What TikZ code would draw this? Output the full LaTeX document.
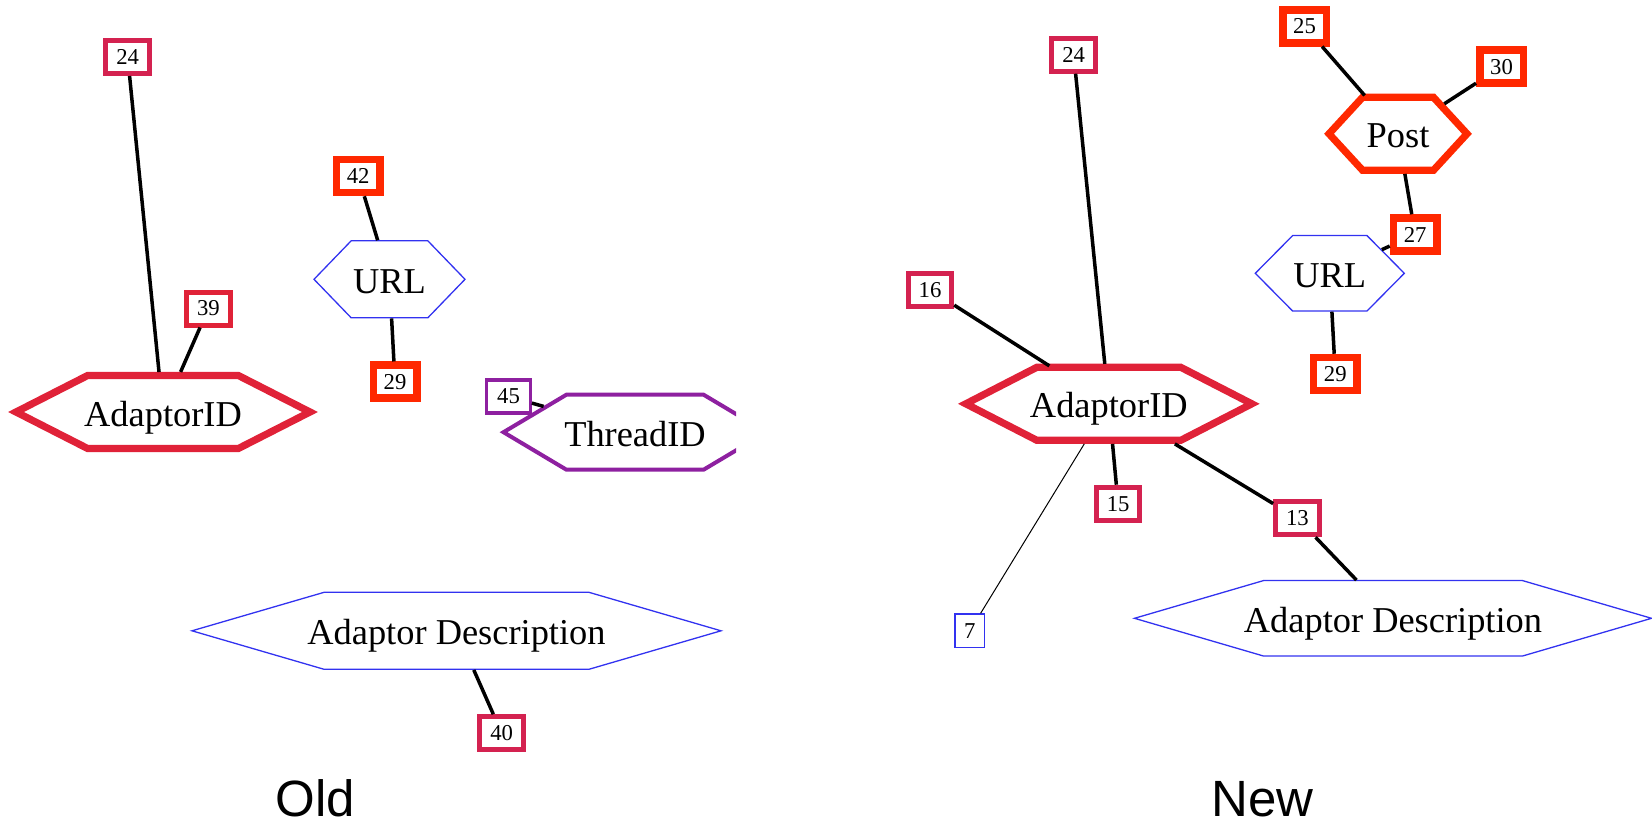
\documentclass[tikz,border=0pt]{standalone}
\usepackage{fontspec}
\setmainfont{Liberation Serif}
\newfontfamily\labfont{Liberation Sans}
\usetikzlibrary{shapes.symbols}
\definecolor{crim}{RGB}{212,34,80}
\definecolor{redh}{RGB}{224,34,56}
\definecolor{ored}{RGB}{255,40,0}
\definecolor{purp}{RGB}{142,32,160}
\definecolor{blu}{RGB}{50,50,240}
\tikzset{
  numbox/.style={draw, rectangle, inner sep=0pt, minimum width=21.75pt, minimum height=16.5pt, font=\fontsize{11.35}{12}\selectfont},
  crimbox/.style={numbox, draw=crim, line width=2.5pt},
  redbox/.style={numbox, draw=redh, line width=2.5pt},
  orbox/.style={numbox, draw=ored, line width=3.75pt},
  purbox/.style={numbox, draw=purp, line width=1.65pt},
  blubox/.style={numbox, draw=blu, line width=0.65pt, minimum width=14.85pt, minimum height=16.85pt},
  hexa/.style={shape=signal, signal to=west and east, draw, inner sep=0pt, text height=16pt, text depth=2pt, font=\fontsize{18.2}{20}\selectfont},
  redhex/.style={hexa, draw=redh, line width=3.6pt},
  orhex/.style={hexa, draw=ored, line width=3.6pt},
  purhex/.style={hexa, draw=purp, line width=2pt},
  bluhex/.style={hexa, draw=blu, line width=0.65pt},
  link/.style={line width=1.75pt, black},
  thinlink/.style={line width=0.5pt, black},
  bigcap/.style={font=\labfont\fontsize{25.5}{28}\selectfont, anchor=base, inner sep=0pt},
}
\begin{document}
\begin{tikzpicture}[x=0.5pt, y=-0.5pt]
\useasboundingbox (0,0) rectangle (1652,824);
% ---------- Old ----------
\node[redhex, signal pointer angle=54, minimum width=147pt, minimum height=36.5pt] (oAid) at (163,412) {\makebox[0pt]{AdaptorID}};
\node[bluhex, signal pointer angle=92, minimum width=75.5pt, minimum height=38.5pt] (oURL) at (389.5,279.3) {\makebox[0pt]{URL}};
\begin{scope}
\clip (0,0) rectangle (736,824);
\node[purhex, signal pointer angle=61.6, minimum width=131.5pt, minimum height=37.5pt] (oThr) at (635,432.2) {\makebox[0pt]{ThreadID}};
\end{scope}
\node[bluhex, signal pointer angle=32.5, minimum width=264.5pt, minimum height=38.5pt] (oAD) at (456.5,630.8) {\makebox[0pt]{Adaptor Description}};
\node[crimbox] (o24) at (127.7,57) {24};
\node[redbox] (o39) at (208.4,308.5) {39};
\node[orbox] (o42) at (358.2,176) {42};
\node[orbox] (o29) at (395,381.7) {29};
\node[purbox] (o45) at (508.5,396.5) {45};
\node[crimbox] (o40) at (501.7,733.2) {40};
\draw[link] (o24) -- (oAid);
\draw[link] (o39) -- (oAid);
\draw[link] (o42) -- (oURL);
\draw[link] (oURL) -- (o29);
\draw[link] (o45) -- (oThr);
\draw[link] (oAD) -- (o40);
\node[bigcap] (old) at (315.5,816) {Old};
% ---------- New ----------
\node[redhex, signal pointer angle=54.4, minimum width=143pt, minimum height=36.5pt] (nAid) at (1108.8,403.8) {\makebox[0pt]{AdaptorID}};
\node[orhex, signal pointer angle=94.8, minimum width=69pt, minimum height=36.5pt] (nPost) at (1398,133.8) {\makebox[0pt]{Post}};
\node[bluhex, signal pointer angle=90.6, minimum width=74.5pt, minimum height=37.75pt] (nURL) at (1329.8,273.3) {\makebox[0pt]{URL}};
\node[bluhex, signal pointer angle=32.6, minimum width=258.5pt, minimum height=37.75pt] (nAD) at (1393,618.3) {\makebox[0pt]{Adaptor Description}};
\node[crimbox] (n24) at (1073.7,54.7) {24};
\node[orbox] (n25) at (1304.5,26.3) {25};
\node[orbox] (n30) at (1501.5,66.7) {30};
\node[orbox] (n27) at (1415.2,234.5) {27};
\node[orbox] (n29) at (1335.3,374) {29};
\node[crimbox] (n16) at (930,289.7) {16};
\node[crimbox] (n15) at (1118.1,503.7) {15};
\node[crimbox] (n13) at (1297.4,518.3) {13};
\node[blubox] (n7) at (969.9,630.8) {7};
\draw[link] (n24) -- (nAid);
\draw[link] (n16) -- (nAid);
\draw[link] (nAid) -- (n15);
\draw[link] (nAid) -- (n13);
\draw[link] (n13) -- (nAD);
\draw[thinlink] (nAid) -- (n7);
\draw[link] (n25) -- (nPost);
\draw[link] (n30) -- (nPost);
\draw[link] (nPost) -- (n27);
\draw[link] (n27) -- (nURL);
\draw[link] (nURL) -- (n29);
\node[bigcap] (new) at (1262.3,816) {New};
\end{tikzpicture}
\end{document}
